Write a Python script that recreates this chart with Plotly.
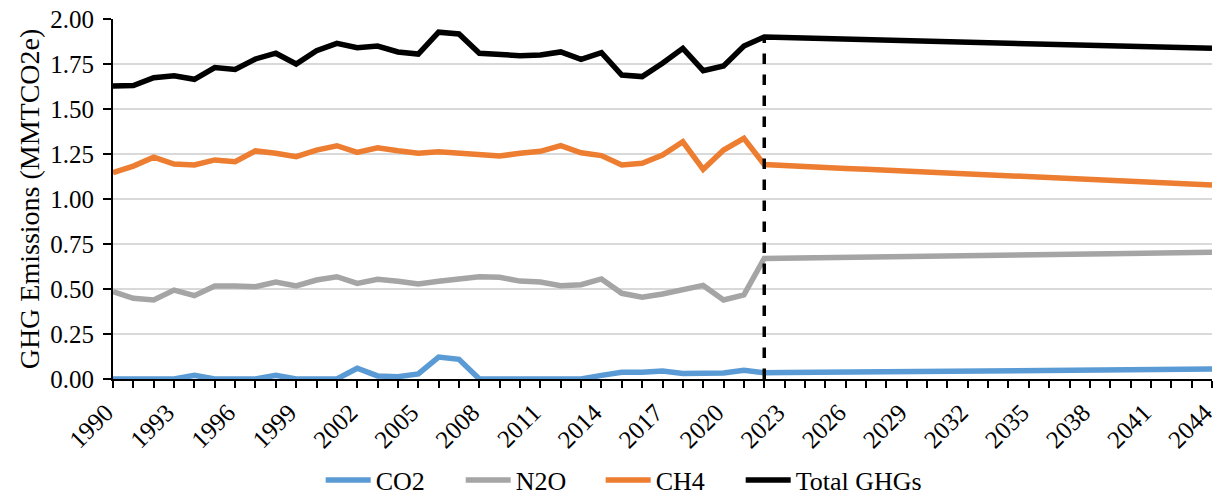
import plotly.graph_objects as go

years = list(range(1990, 2045))

co2 = [0.00, 0.00, 0.00, 0.00, 0.02, 0.00, 0.00, 0.00, 0.02, 0.00,
       0.00, 0.00, 0.06, 0.017, 0.013, 0.028, 0.122, 0.109, 0.00, 0.00,
       0.00, 0.00, 0.00, 0.00, 0.02, 0.038, 0.038, 0.044, 0.030, 0.028,
       0.033, 0.048, 0.035,
       0.036, 0.037, 0.038, 0.039, 0.039, 0.040, 0.041, 0.042, 0.043, 0.044,
       0.045, 0.046, 0.047, 0.048, 0.048, 0.049, 0.050, 0.051, 0.052, 0.053,
       0.054, 0.055]

n2o = [0.485, 0.448, 0.439, 0.494, 0.463, 0.517, 0.517, 0.513, 0.539, 0.517,
       0.550, 0.568, 0.531, 0.554, 0.543, 0.528, 0.543, 0.559, 0.568, 0.565,
       0.544, 0.539, 0.518, 0.524, 0.556, 0.476, 0.454, 0.472, 0.494, 0.520,
       0.439, 0.467, 0.670,
       0.672, 0.673, 0.675, 0.676, 0.678, 0.679, 0.681, 0.682, 0.684, 0.685,
       0.687, 0.689, 0.690, 0.692, 0.693, 0.695, 0.696, 0.698, 0.699, 0.701,
       0.702, 0.704]

ch4 = [1.146, 1.183, 1.232, 1.194, 1.189, 1.217, 1.207, 1.267, 1.254, 1.235,
       1.272, 1.296, 1.259, 1.285, 1.268, 1.254, 1.263, 1.254, 1.243, 1.239,
       1.254, 1.265, 1.296, 1.257, 1.241, 1.189, 1.198, 1.244, 1.318, 1.165,
       1.272, 1.337, 1.192,
       1.185, 1.180, 1.175, 1.170, 1.165, 1.160, 1.155, 1.150, 1.144, 1.139,
       1.134, 1.129, 1.124, 1.119, 1.114, 1.109, 1.104, 1.099, 1.093, 1.088,
       1.083, 1.078]

total = [1.628, 1.630, 1.674, 1.685, 1.665, 1.730, 1.720, 1.778, 1.810, 1.750,
         1.824, 1.865, 1.840, 1.850, 1.817, 1.805, 1.927, 1.917, 1.810, 1.800,
         1.796, 1.800, 1.817, 1.776, 1.813, 1.689, 1.680, 1.754, 1.837, 1.713,
         1.739, 1.850, 1.900,
         1.897, 1.894, 1.891, 1.888, 1.886, 1.883, 1.880, 1.877, 1.874, 1.871,
         1.868, 1.866, 1.863, 1.860, 1.857, 1.854, 1.851, 1.848, 1.846, 1.843,
         1.840, 1.837]

series_names = ["CO2", "N2O", "CH4", "Total GHGs"]
series_colors = ["#5B9BD5", "#A5A5A5", "#ED7D31", "#000000"]
projection_start = 2022

FONT = "Liberation Serif"

fig = go.Figure()
for name, vals, col in zip(series_names, [co2, n2o, ch4, total], series_colors):
    fig.add_trace(go.Scatter(x=years, y=vals, mode="lines", name=name,
                             line=dict(color=col, width=5.5), cliponaxis=False))
# empty spacer entry so the last legend label is not clipped by entrywidth
fig.add_trace(go.Scatter(x=[None], y=[None], mode="lines", name="",
                         line=dict(color="rgba(0,0,0,0)", width=0),
                         hoverinfo="skip"))

idx = years.index(projection_start)
fig.add_shape(type="line", xref="x", yref="y",
              x0=years[idx], x1=years[idx], y0=0, y1=total[idx],
              line=dict(color="black", width=3.5, dash="dash"))

fig.update_layout(
    width=1224, height=496,
    margin=dict(l=113, r=12, t=19, b=117, autoexpand=False),
    paper_bgcolor="white", plot_bgcolor="white",
    font=dict(family=FONT, size=25, color="black"),
    showlegend=True,
    legend=dict(orientation="h", xref="container", yref="container",
                x=0.262, xanchor="left", y=0.032, yanchor="middle",
                font=dict(size=26, family=FONT), itemwidth=45, tracegroupgap=0,
                entrywidth=80, entrywidthmode="pixels"),
    xaxis=dict(range=[1990, 2044], tickmode="linear", tick0=1990, dtick=3,
               tickangle=-45, ticks="outside", ticklen=7, tickwidth=1.5,
               tickcolor="black", showline=True, linecolor="black", linewidth=2,
               showgrid=False, zeroline=False, tickfont=dict(size=25, family=FONT),
               automargin=False, ticklabeloverflow="allow", ticklabelshift=-7,
               minor=dict(dtick=1, tick0=1990, ticks="outside", ticklen=7,
                          tickwidth=1.5, tickcolor="black", showgrid=False)),
    yaxis=dict(range=[0, 2], tickmode="linear", tick0=0, dtick=0.25,
               tickformat=".2f", ticks="outside", ticklen=8, tickwidth=1.5,
               tickcolor="black", showline=True, linecolor="black", linewidth=2,
               showgrid=True, gridcolor="#D9D9D9", gridwidth=1.5, zeroline=False,
               tickfont=dict(size=25, family=FONT), automargin=False,
               ticklabeloverflow="allow", ticklabelstandoff=4,
               title=dict(text="GHG Emissions (MMTCO2e)", font=dict(size=28, family=FONT),
                          standoff=2)),
)

fig.write_html("out.html", config={"displayModeBar": False},
               post_script="document.body.style.margin='0';document.body.style.overflow='hidden';")
